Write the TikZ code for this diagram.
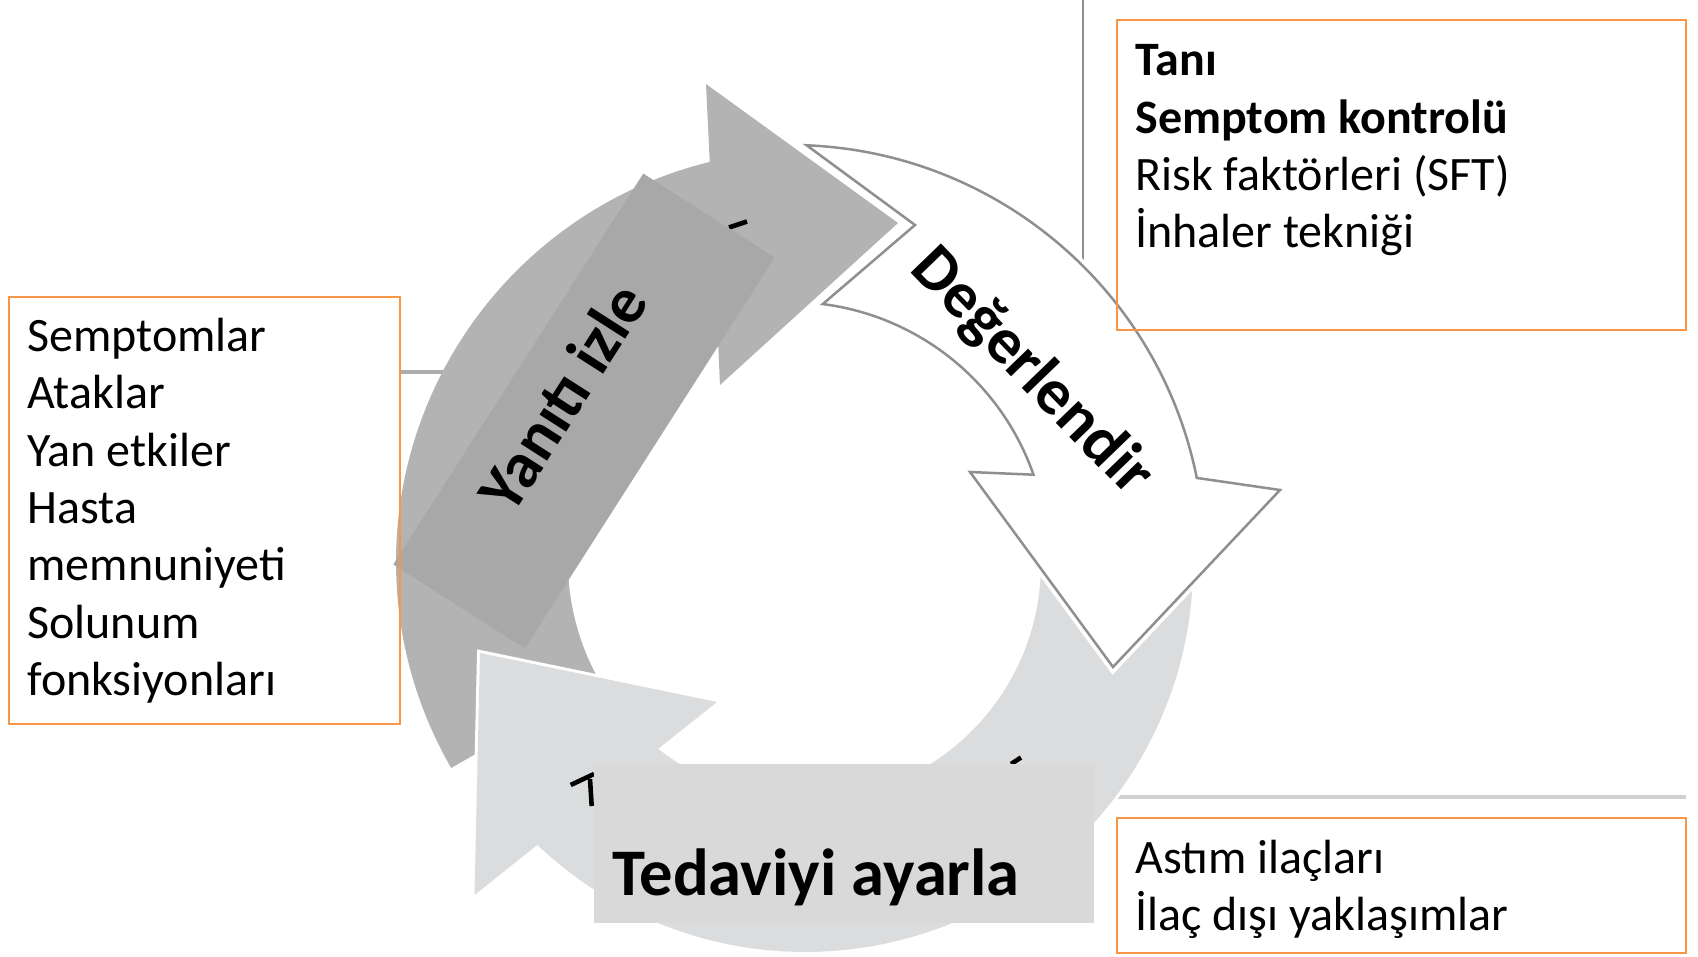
\documentclass[tikz,border=0pt]{standalone}
\usepackage{fontspec}
\setmainfont{Carlito}
\definecolor{arrowmid}{RGB}{179,179,179}
\definecolor{arrowlight}{RGB}{219,220,221}
\definecolor{bandgray}{RGB}{168,168,168}
\definecolor{boxlight}{RGB}{217,217,217}
\definecolor{rimgray}{RGB}{143,143,143}
\definecolor{linkgray}{RGB}{172,172,172}
\definecolor{linklight}{RGB}{208,208,208}
\definecolor{accent}{RGB}{247,150,70}
\tikzset{
  infobox/.style={draw=accent, line width=1pt, inner sep=0pt, outer sep=0pt, anchor=north west},
  bodytext/.style={anchor=base west, inner sep=0pt, font=\fontsize{24}{28.65}\selectfont},
  bigtext/.style={inner sep=0pt, font=\bfseries\fontsize{32.5}{39}\selectfont},
  halo/.style={preaction={draw=white, line width=3pt, line join=miter}},
  glyphbit/.style={line width=2.3pt, line cap=butt, black},
}
\begin{document}
\begin{tikzpicture}[x=0.5pt, y=-0.5pt]
\useasboundingbox (0,0) rectangle (1698,957);
\fill[white] (0,0) rectangle (1698,957);

% connector ends
\coordinate (vtop) at (1083,0);
\coordinate (vend) at (1083,300);
\coordinate (lstart) at (399.5,372);
\coordinate (lend) at (480,372);
\coordinate (bstart) at (1080,797);
\coordinate (bend) at (1686,797);

\draw[rimgray, line width=1.25pt] (vtop) -- (vend);
\draw[linkgray, line width=2pt] (lstart) -- (lend);
\draw[linklight, line width=2pt] (bstart) -- (bend);

% arrow 1: monitor (mid grey), centre (808,562)
\fill[arrowmid] (451.2,768) arc[start angle=150, end angle=256.2, radius=412]
  -- (706,84) -- (898,223) -- (720,385) -- (717.9,339.6)
  arc[start angle=247.95, end angle=150, radius=240] -- cycle;

% arrow 3: adjust (light grey), centre (805,564)
\fill[arrowlight, halo] (1187.1,496.6) arc[start angle=-10, end angle=133.62, radius=388]
  -- (474.5,895) -- (480,653) -- (717,702) -- (658.2,748.8)
  arc[start angle=128.46, end angle=-10, radius=236] -- cycle;

% arrow 2: assess (white, outlined), centre (790,560)
\draw[fill=white, draw=rimgray, line width=1.25pt, line join=miter,
      preaction={draw=white, line width=5pt}]
  (806.65,145.3) arc[start angle=-87.7, end angle=-11.4, radius=415]
  -- (1280,490) -- (1113,667) -- (970,472) -- (1033.5,474.7)
  arc[start angle=-19.3, end angle=-82.7, radius=258] -- (915,225) -- cycle;

% bits of covered lettering
\draw[glyphbit] (729,227.5) -- (747,221.5);
\draw[glyphbit] (1011,764) -- (1021,757.5);
\draw[glyphbit] (570.7,785) -- (594,774);
\draw[glyphbit] (590,779) -- (591.7,806);

% labels on the cycle
\node[rotate=57.4, fill=bandgray, minimum width=232pt, minimum height=78pt, inner sep=0pt] (band) at (584,411) {};
\node[bigtext, rotate=57.4] (yanit) at (562,397) {Yanıtı izle};
\node[bigtext, rotate=-46] (deger) at (1031.5,372.5) {Değerlendir};
\node[fill=boxlight, minimum width=250.25pt, minimum height=79.6pt, inner sep=0pt] (tedbox) at (843.75,843.1) {};
\node[bigtext, anchor=base west, font=\bfseries\fontsize{33.3}{40}\selectfont] (tedtext) at (612,895.6) {Tedaviyi ayarla};

% information boxes
\node[infobox, minimum width=195.5pt, minimum height=213.25pt] (lbox) at (8.5,297.5) {};
\node[infobox, minimum width=284.7pt, minimum height=155pt] (tbox) at (1116.6,20) {};
\node[infobox, minimum width=284.7pt, minimum height=67.5pt] (bbox) at (1116.6,818) {};

\node[bodytext] (ltext) at (27,351.7) {\parbox[t]{180pt}{\raggedright
  Semptomlar\\Ataklar\\Yan etkiler\\Hasta\\memnuniyeti\\Solunum\\fonksiyonları}};
\node[bodytext] (ttext) at (1135,76) {\parbox[t]{270pt}{\raggedright
  \textbf{Tanı}\\\textbf{Semptom kontrolü}\\Risk faktörleri (SFT)\\İnhaler tekniği}};
\node[bodytext] (btext) at (1135,873) {\parbox[t]{270pt}{\raggedright
  Astım ilaçları\\İlaç dışı yaklaşımlar}};
\end{tikzpicture}
\end{document}
